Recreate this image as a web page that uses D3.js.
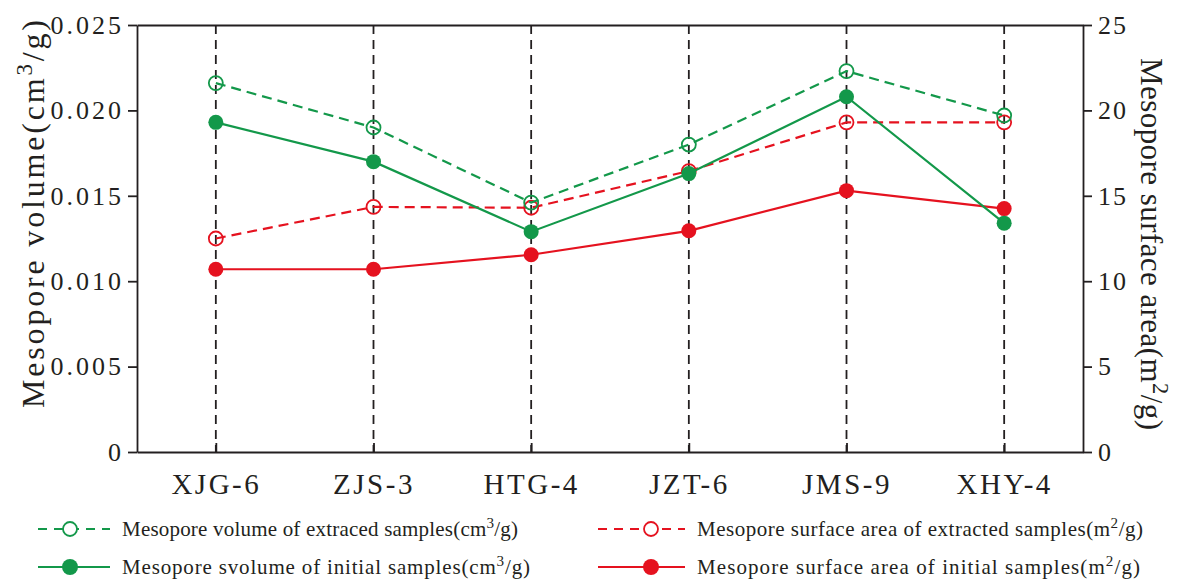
<!DOCTYPE html>
<html>
<head>
<meta charset="utf-8">
<script src="https://cdn.jsdelivr.net/npm/d3@7"></script>
<style>
  body { margin: 0; background: #fff; }
  svg { display: block; }
</style>
</head>
<body>
<svg id="chart" width="1177" height="583"></svg>
<script>
// Samples along the x axis
const samples = ["XJG-6", "ZJS-3", "HTG-4", "JZT-6", "JMS-9", "XHY-4"];

// Mesopore volume, cm3/g (left axis)
const volumeExtracted = [0.0216, 0.0190, 0.0146, 0.0180, 0.0223, 0.0197];
const volumeInitial   = [0.0193, 0.0170, 0.0129, 0.0163, 0.0208, 0.0134];

// Mesopore surface area, m2/g (right axis)
const areaExtracted = [12.5, 14.35, 14.3, 16.45, 19.3, 19.3];
const areaInitial   = [10.7, 10.7, 11.55, 12.95, 15.3, 14.25];

// Axis ticks
const volumeTicks = [0, 0.005, 0.010, 0.015, 0.020, 0.025];
const areaTicks   = [0, 5, 10, 15, 20, 25];

const GREEN = "#13984a";
const RED = "#e5121f";
const INK = "#231f20";
const FONT = '"Liberation Serif", serif';

const W = 1177, H = 583;
const m = { top: 25, right: 94, bottom: 131, left: 137 };
const x0 = m.left, x1 = W - m.right, y0 = H - m.bottom, y1 = m.top;

const svg = d3.select("#chart");

const x = d3.scalePoint().domain(samples).range([x0, x1]).padding(0.5);
const yVol = d3.scaleLinear().domain([0, 0.025]).range([y0, y1]);
const yArea = d3.scaleLinear().domain([0, 25]).range([y0, y1]);

// Vertical dashed guides at each sample
svg.append("g").selectAll("line").data(samples).join("line")
  .attr("x1", d => x(d)).attr("x2", d => x(d))
  .attr("y1", y1).attr("y2", y0)
  .attr("stroke", INK).attr("stroke-width", 1.8)
  .attr("stroke-dasharray", "9,6");

// Axes
const fmtVol = d => d === 0 ? "0" : d3.format(".3f")(d);
const styleAxis = (size, spacing) => g => {
  g.attr("font-family", null).attr("font-size", null);
  g.selectAll(".domain").attr("stroke", INK).attr("stroke-width", 1.8);
  g.selectAll(".tick line").attr("stroke", INK).attr("stroke-width", 1.8);
  g.selectAll("text").attr("fill", INK)
    .style("font-family", FONT)
    .style("font-size", size + "px")
    .style("letter-spacing", spacing + "px");
};

svg.append("g").attr("transform", `translate(${x0},0)`)
  .call(d3.axisLeft(yVol).tickValues(volumeTicks).tickFormat(fmtVol)
    .tickSize(9).tickSizeOuter(0).tickPadding(4))
  .call(styleAxis(26, 3));

svg.append("g").attr("transform", `translate(${x1},0)`)
  .call(d3.axisRight(yArea).tickValues(areaTicks).tickFormat(d3.format("d"))
    .tickSize(9).tickSizeOuter(0).tickPadding(6))
  .call(styleAxis(26, 2));

svg.append("g").attr("transform", `translate(0,${y0})`)
  .call(d3.axisBottom(x).tickSize(-9).tickSizeOuter(0).tickPadding(21))
  .call(styleAxis(29, 2.5));

svg.append("g").attr("transform", `translate(0,${y1})`)
  .call(d3.axisTop(x).tickValues([]).tickSizeOuter(0))
  .call(styleAxis(10, 0));

// Text with a superscript unit
function richText(sel, parts, size) {
  parts.forEach(p => {
    const t = sel.append("tspan").text(p.t);
    if (p.sup) t.attr("dy", -size * 0.38).style("font-size", (size * 0.72) + "px");
    else if (p.after) t.attr("dy", size * 0.38);
  });
  return sel;
}

// Axis titles
svg.append("text")
  .attr("transform", `translate(44,214) rotate(-90)`)
  .attr("text-anchor", "middle")
  .attr("fill", INK)
  .style("font-family", FONT)
  .style("font-size", "32px")
  .attr("textLength", 388).attr("lengthAdjust", "spacing")
  .call(s => richText(s, [{ t: "Mesopore volume(cm" }, { t: "3", sup: true }, { t: "/g)", after: true }], 32));

svg.append("text")
  .attr("transform", `translate(1141,244) rotate(90)`)
  .attr("text-anchor", "middle")
  .attr("fill", INK)
  .style("font-family", FONT)
  .style("font-size", "31px")
  .attr("textLength", 372).attr("lengthAdjust", "spacing")
  .call(s => richText(s, [{ t: "Mesopore surface area(m" }, { t: "2", sup: true }, { t: "/g)", after: true }], 31));

// Series
const series = [
  { values: areaExtracted, y: yArea, color: RED, dashed: true, filled: false },
  { values: areaInitial, y: yArea, color: RED, dashed: false, filled: true },
  { values: volumeExtracted, y: yVol, color: GREEN, dashed: true, filled: false },
  { values: volumeInitial, y: yVol, color: GREEN, dashed: false, filled: true }
];

series.forEach(s => {
  const pts = samples.map((c, i) => [x(c), s.y(s.values[i])]);
  svg.append("path")
    .attr("d", d3.line()(pts))
    .attr("fill", "none")
    .attr("stroke", s.color)
    .attr("stroke-width", 2.2)
    .attr("stroke-dasharray", s.dashed ? "10,6" : null);
  svg.append("g").selectAll("circle").data(pts).join("circle")
    .attr("cx", d => d[0]).attr("cy", d => d[1])
    .attr("r", s.filled ? 7.5 : 7)
    .attr("fill", s.filled ? s.color : "none")
    .attr("stroke", s.color)
    .attr("stroke-width", s.filled ? 0 : 1.8);
});

// Legend
const legendItems = [
  { col: 0, row: 0, color: GREEN, dashed: true, filled: false,
    parts: [{ t: "Mesopore volume of extraced samples(cm" }, { t: "3", sup: true }, { t: "/g)", after: true }], len: 396 },
  { col: 0, row: 1, color: GREEN, dashed: false, filled: true,
    parts: [{ t: "Mesopore svolume of initial samples(cm" }, { t: "3", sup: true }, { t: "/g)", after: true }], len: 408 },
  { col: 1, row: 0, color: RED, dashed: true, filled: false,
    parts: [{ t: "Mesopore surface area of extracted samples(m" }, { t: "2", sup: true }, { t: "/g)", after: true }], len: 446 },
  { col: 1, row: 1, color: RED, dashed: false, filled: true,
    parts: [{ t: "Mesopore surface area of initial samples(m" }, { t: "2", sup: true }, { t: "/g)", after: true }], len: 443 }
];
const legendCols = [{ lx: 38, cx: 70, lx2: 110, tx: 122 }, { lx: 598, cx: 651, lx2: 685, tx: 697 }];
const legendRows = [529, 567];

legendItems.forEach(it => {
  const c = legendCols[it.col], yy = legendRows[it.row];
  const g = svg.append("g");
  g.append("line").attr("x1", c.lx).attr("x2", c.lx2).attr("y1", yy).attr("y2", yy)
    .attr("stroke", it.color).attr("stroke-width", 2.2)
    .attr("stroke-dasharray", it.dashed ? "9,7" : null);
  g.append("circle").attr("cx", c.cx).attr("cy", yy).attr("r", it.filled ? 8 : 7)
    .attr("fill", it.filled ? it.color : "#fff")
    .attr("stroke", it.color).attr("stroke-width", it.filled ? 0 : 1.8);
  const t = g.append("text").attr("x", c.tx).attr("y", yy + 7)
    .attr("fill", INK)
    .style("font-family", FONT)
    .style("font-size", "21px")
    .attr("textLength", it.len).attr("lengthAdjust", "spacing");
  richText(t, it.parts, 21);
});
</script>
</body>
</html>
